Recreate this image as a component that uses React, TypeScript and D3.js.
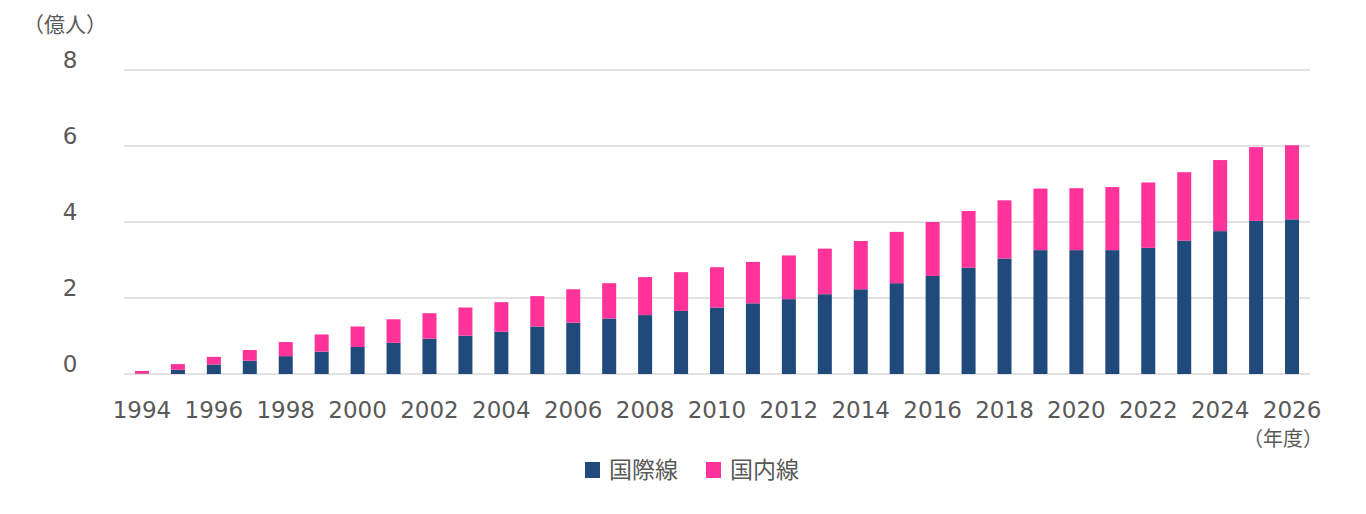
import React from "react";
import * as d3 from "d3";

// 航空旅客数の推移（億人）
const years: number[] = d3.range(1994, 2027);
const international: number[] = [
  0.01, 0.11, 0.25, 0.35, 0.47, 0.59, 0.71, 0.82, 0.93, 1.01, 1.11,
  1.25, 1.35, 1.46, 1.55, 1.66, 1.75, 1.86, 1.97, 2.1, 2.23,
  2.39, 2.58, 2.8, 3.04, 3.26, 3.26, 3.26, 3.32, 3.51, 3.76, 4.03, 4.07,
];
const domestic: number[] = [
  0.07, 0.15, 0.2, 0.28, 0.37, 0.45, 0.54, 0.62, 0.67, 0.74, 0.78,
  0.8, 0.88, 0.93, 1.0, 1.02, 1.06, 1.09, 1.15, 1.2, 1.27,
  1.35, 1.42, 1.49, 1.53, 1.62, 1.63, 1.66, 1.72, 1.8, 1.87, 1.94, 1.95,
];
const yTicks: number[] = [0, 2, 4, 6, 8];
const seriesNames: string[] = ["国際線", "国内線"];
const seriesColors: string[] = ["#214a7c", "#ff3399"];

const W = 1366;
const H = 514;
const left = 124;
const right = 1310;
const top = 70;
const bottom = 374;

export default function App() {
  const x = d3
    .scaleBand<number>()
    .domain(years)
    .range([left, right])
    .paddingInner(0.61)
    .paddingOuter(0.305);
  const y = d3.scaleLinear().domain([0, 8]).range([bottom, top]);

  const rows = years.map((yr, i) => ({
    year: yr,
    international: international[i],
    domestic: domestic[i],
  }));
  const stacked = d3.stack<any>().keys(["international", "domestic"])(rows);

  const textColor = "#595959";
  const numFont = "'DejaVu Sans', Verdana, sans-serif";
  const cjkFont = "'Noto Sans CJK JP', 'Noto Sans', sans-serif";

  return (
    <svg width={W} height={H} style={{ display: "block", position: "absolute", left: 0, top: 0 }}>
      <rect width={W} height={H} fill="#ffffff" />
      <text x={65} y={32} textAnchor="middle" fontFamily={cjkFont} fontSize={21} fill={textColor}>
        （億人）
      </text>
      {yTicks.map((t) => (
        <g key={t}>
          <line x1={left} x2={right} y1={y(t)} y2={y(t)} stroke="#d9d9d9" strokeWidth={1.5} />
          <text
            x={70}
            y={y(t) - 2}
            textAnchor="middle"
            fontFamily={numFont}
            fontSize={23}
            fill={textColor}
          >
            {t}
          </text>
        </g>
      ))}
      {stacked.map((layer, si) => (
        <g key={layer.key} fill={seriesColors[si]}>
          {layer.map((d, i) => (
            <rect
              key={i}
              x={x(years[i])}
              y={y(d[1])}
              width={x.bandwidth()}
              height={Math.max(0, y(d[0]) - y(d[1]))}
            />
          ))}
        </g>
      ))}
      {years
        .filter((yr) => yr % 2 === 0)
        .map((yr) => (
          <text
            key={yr}
            x={(x(yr) as number) + x.bandwidth() / 2}
            y={418}
            textAnchor="middle"
            fontFamily={numFont}
            fontSize={23}
            fill={textColor}
          >
            {yr}
          </text>
        ))}
      <text x={1283} y={446} textAnchor="middle" fontFamily={cjkFont} fontSize={20} fill={textColor}>
        （年度）
      </text>
      {seriesNames.map((name, i) => {
        const lx = 585 + i * 121;
        return (
          <g key={name}>
            <rect x={lx} y={462} width={15} height={16} fill={seriesColors[i]} />
            <text x={lx + 24} y={478} fontFamily={cjkFont} fontSize={23} fill={textColor}>
              {name}
            </text>
          </g>
        );
      })}
    </svg>
  );
}
